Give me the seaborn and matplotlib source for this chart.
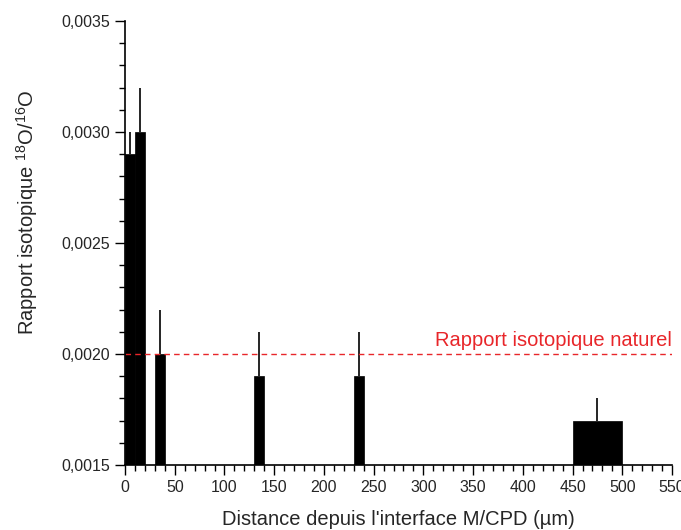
import numpy as np
import pandas as pd
import matplotlib
matplotlib.use("Agg")
import matplotlib.pyplot as plt
import seaborn as sns
from matplotlib.ticker import MultipleLocator, FuncFormatter

# Data
bin_left = [0, 10, 30, 130, 230, 450]
bin_right = [10, 20, 40, 140, 240, 500]
ratio = [0.0029, 0.0030, 0.0020, 0.0019, 0.0019, 0.0017]
err_up = [0.0001, 0.0002, 0.0002, 0.0002, 0.0002, 0.0001]
natural_ratio = 0.0020
natural_label = "Rapport isotopique naturel"
x_label = "Distance depuis l'interface M/CPD (µm)"
y_label = "Rapport isotopique $^{18}$O/$^{16}$O"

sns.set_style("ticks")
plt.rcParams['font.family'] = ['Liberation Sans', 'DejaVu Sans']
plt.rcParams['mathtext.fontset'] = 'custom'
plt.rcParams['mathtext.rm'] = 'Liberation Sans'
plt.rcParams['mathtext.sf'] = 'Liberation Sans'
plt.rcParams['mathtext.it'] = 'Liberation Sans'
plt.rcParams['mathtext.default'] = 'regular'

centers = [(l + r) / 2 for l, r in zip(bin_left, bin_right)]
df = pd.DataFrame({"x": centers, "w": ratio})
edges = sorted(set(bin_left + bin_right))

fig = plt.figure(figsize=(6.81, 5.30), dpi=100)
ax = fig.add_axes([0.1836, 0.1226, 0.8032, 0.8378])

sns.histplot(data=df, x="x", weights="w", bins=edges, stat="count",
             color="black", edgecolor="black", linewidth=0.5, alpha=1, ax=ax)

ax.errorbar(centers, ratio, yerr=[np.zeros(len(err_up)), err_up], fmt="none",
            ecolor="black", elinewidth=1.2, capsize=0)

ax.axhline(natural_ratio, color="#e8262a", linestyle=(0, (4, 3)), linewidth=1.0)
ax.text(550, natural_ratio + 0.00002, natural_label, color="#e8262a",
        ha="right", va="bottom", fontsize=14.5)

ax.set_xlim(0, 550)
ax.set_ylim(0.0015, 0.0035)
ax.xaxis.set_major_locator(MultipleLocator(50))
ax.xaxis.set_minor_locator(MultipleLocator(10))
ax.yaxis.set_major_locator(MultipleLocator(0.0005))
ax.yaxis.set_minor_locator(MultipleLocator(0.0001))
ax.yaxis.set_major_formatter(FuncFormatter(lambda v, p: f"{v:.4f}".replace(".", ",")))

ax.tick_params(axis="both", which="major", length=7, width=1, labelsize=11.5, direction="out", color="black")
ax.tick_params(axis="both", which="minor", length=4, width=1, direction="out", color="black")
for s in ["top", "right"]:
    ax.spines[s].set_visible(False)
for s in ["left", "bottom"]:
    ax.spines[s].set_linewidth(1.2)
    ax.spines[s].set_color("black")

ax.set_xlabel(x_label, fontsize=14.5, labelpad=11)
ax.set_ylabel(y_label, fontsize=14.5)
ax.yaxis.set_label_coords(-0.155, 0.57)

fig.savefig("out.png", dpi=100)
